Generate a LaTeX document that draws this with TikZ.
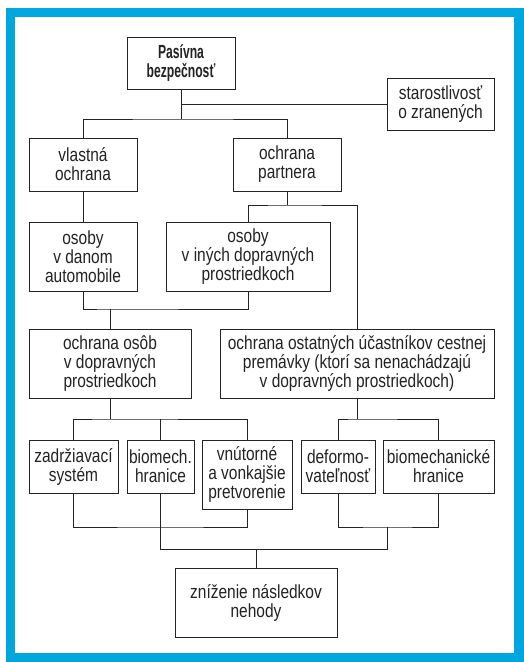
\documentclass[tikz,border=0pt]{standalone}
\usepackage{fontspec}
\setmainfont{Liberation Sans}[FakeStretch=0.815]
\newfontfamily\headfont{Liberation Sans}[FakeStretch=0.64]
\usetikzlibrary{calc}
\definecolor{frame}{RGB}{0,166,222}
\definecolor{ink}{RGB}{35,35,35}
\newlength{\linew}
\setlength{\linew}{1pt}

\begin{document}
\begin{tikzpicture}[x=1pt,y=-1pt,
	box/.style={draw=ink,line width=\linew,align=center,inner sep=0pt,text=ink,
		font=\fontsize{19}{19}\selectfont},
	link/.style={draw=ink,line width=\linew}]
	
	% ramik a okraje
	\useasboundingbox (0,0) rectangle (524,662);
	\fill[frame] (6,8) rectangle (524,662);
	\fill[white] (15,17) rectangle (514,653);
	
	% --- uzly ---
	\node[box,minimum width=108,minimum height=52] (pas) at (181,63)
		{\headfont\bfseries Pasívna\\\headfont\bfseries bezpečnosť};
	\node[box,minimum width=107,minimum height=52] (star) at (440.5,104) {starostlivosť\\o zranených};
	
	\node[box,minimum width=108,minimum height=53] (vlast) at (83,164.5) {vlastná\\ochrana};
	\node[box,minimum width=108,minimum height=53] (partn) at (287,164.5) {ochrana\\partnera};
	
	\node[box,minimum width=108,minimum height=69] (osdan) at (83,256.5) {osoby\\v danom\\automobile};
	\node[box,minimum width=164,minimum height=69] (osiny) at (248,256.5) {osoby\\v iných dopravných\\prostriedkoch};
	
	\node[box,minimum width=162,minimum height=69] (ochos) at (110,363.5) {ochrana osôb\\v dopravných\\prostriedkoch};
	\node[box,minimum width=274,minimum height=69] (ochost) at (357,363.5)
		{ochrana ostatných účastníkov cestnej\\premávky (ktorí sa nenachádzajú\\v dopravných prostriedkoch)};
	
	\node[box,minimum width=89,minimum height=53] (zadr) at (73.5,466.5) {zadržiavací\\systém};
	\node[box,minimum width=67,minimum height=53] (biom) at (160.5,466.5) {biomech.\\hranice};
	\node[box,minimum width=90,minimum height=69] (vnut) at (247,474.5) {vnútorné\\a vonkajšie\\pretvorenie};
	\node[box,minimum width=74,minimum height=53] (defo) at (338,466.5) {deformo-\\vateľnosť};
	\node[box,minimum width=111,minimum height=53] (biomh) at (438.5,466.5) {biomechanické\\hranice};
	
	\node[box,minimum width=162,minimum height=69] (zniz) at (256,602.5) {zníženie následkov\\nehody};
	
	% --- uzly spojov ---
	\coordinate (j1) at (181,119);
	\coordinate (j2) at (287,205);
	\coordinate (j3) at (110,309);
	\coordinate (j4) at (110,419);
	\coordinate (j5) at (357,419);
	\coordinate (j6) at (160.5,527);
	\coordinate (j7) at (387,527);
	\coordinate (j8) at (256,549);
	
	% --- spoje ---
	\draw[link] (pas.south) -- (j1);
	\draw[link] (pas.south |- star.west) -- (star.west);
	\draw[link] (vlast.north) |- (j1) -| (partn.north);
	
	\draw[link] (vlast.south) -- (osdan.north);
	\draw[link] (partn.south) -- (j2);
	\draw[link] (osiny.north) |- (j2) -| (ochost.north);
	
	\draw[link] (osdan.south) |- (j3) -| (osiny.south);
	\draw[link] (j3) -- (ochos.north);
	
	\draw[link] (ochos.south) -- (j4);
	\draw[link] (zadr.north) |- (j4) -| (vnut.north);
	\draw[link] (biom.north) -- (biom.north |- j4);
	\draw[link] (ochost.south) -- (j5);
	\draw[link] (defo.north) |- (j5) -| (biomh.north);
	
	\draw[link] (zadr.south) |- (j6) -| (vnut.south);
	\draw[link] (biom.south) |- (j8);
	\draw[link] (defo.south) |- (j7) -| (biomh.south);
	\draw[link] (j7) |- (j8);
	\draw[link] (j8) -- (zniz.north);
	
\end{tikzpicture}
\end{document}
